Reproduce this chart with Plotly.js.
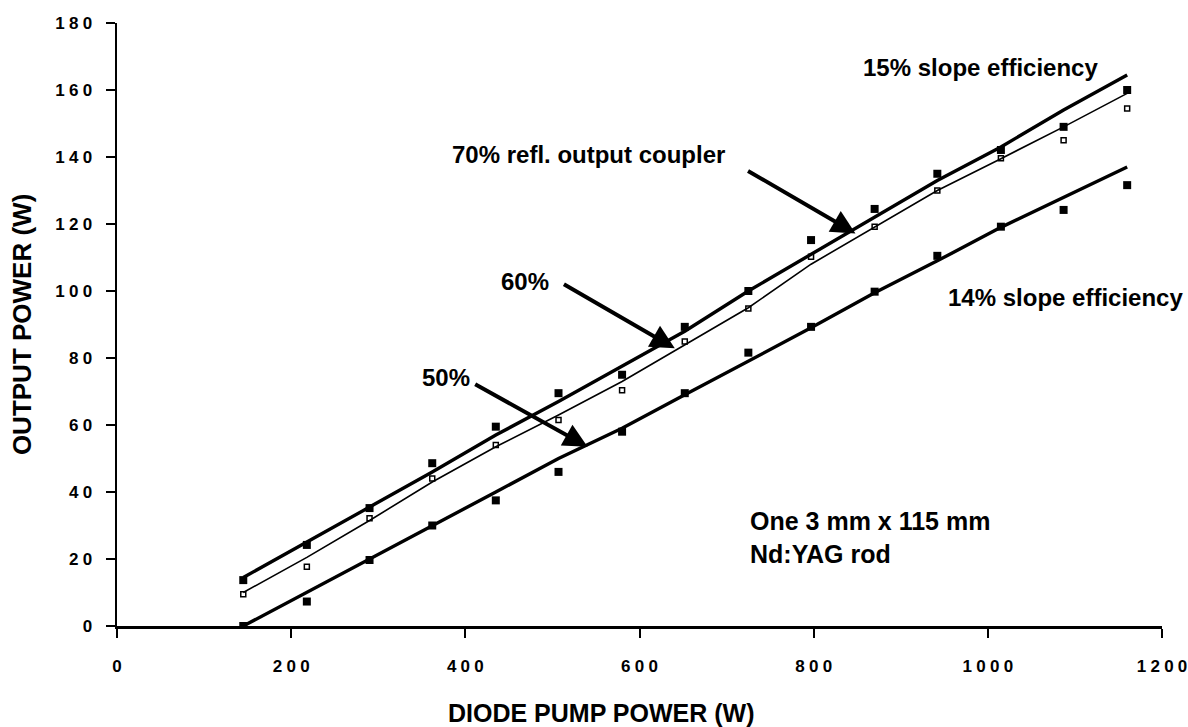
<!DOCTYPE html>
<html>
<head>
<meta charset="utf-8">
<script src="https://cdn.plot.ly/plotly-3.0.1.min.js"></script>
<style>html,body{margin:0;padding:0;background:#fff;}#chart{width:1188px;height:727px;}</style>
</head>
<body>
<div id="chart"></div>
<script>
// Diode pump power (W)
const pumpPower = [145, 218, 290, 362, 435, 507, 580, 652, 725, 797, 870, 942, 1015, 1087, 1160];

// Measured output power (W)
const outHigh = [13.7, 24.2, 35.2, 48.6, 59.5, 69.5, 75, 89.3, 100, 115.2, 124.5, 135, 142.1, 149, 160];
const outMid  = [9.5, 17.7, 32.2, 44, 54, 61.5, 70.4, 84.9, 94.8, 110.2, 119.2, 130, 139.6, 145, 154.5];
const outLow  = [0, 7.3, 19.7, 30, 37.5, 46, 58, 69.5, 81.6, 89.3, 99.8, 110.5, 119.2, 124.2, 131.6];

// Fitted curves (W)
const fitHigh = [14.5, 25, 35.5, 46, 57, 67, 77.5, 88, 100, 111, 122, 133, 143, 154, 164.5];
const fitMid  = [10, 20.5, 31.5, 43, 53.5, 63, 73, 84, 95, 108, 119, 130, 139.5, 149, 159];
const fitLow  = [0, 10, 20, 30, 40, 50, 59, 69, 79, 89, 99.5, 109, 119, 128, 137];

// Tick labels
const xTicks = [0, 200, 400, 600, 800, 1000, 1200];
const yTicks = [0, 20, 40, 60, 80, 100, 120, 140, 160, 180];

const F = "Liberation Sans, Arial, Helvetica, sans-serif";
const spaced = v => String(v).split('').join('\u2005');

const traces = [
  {x: pumpPower, y: fitHigh, mode: 'lines', line: {color: '#000', width: 3.4}, hoverinfo: 'skip'},
  {x: pumpPower, y: fitMid, mode: 'lines', line: {color: '#000', width: 1.6}, hoverinfo: 'skip'},
  {x: pumpPower, y: fitLow, mode: 'lines', line: {color: '#000', width: 3.4}, hoverinfo: 'skip'},
  {x: pumpPower, y: outHigh, mode: 'markers', marker: {symbol: 'square', size: 8, color: '#000'}},
  {x: pumpPower, y: outMid, mode: 'markers', marker: {symbol: 'square-open', size: 5, color: '#000', line: {width: 1.5, color: '#000'}}},
  {x: pumpPower, y: outLow, mode: 'markers', marker: {symbol: 'square', size: 8, color: '#000'}}
];

const txt = (s, x, y, size, xanchor) => ({
  text: s, x: x, y: y, xref: 'x', yref: 'y', showarrow: false,
  xanchor: xanchor || 'center', yanchor: 'middle', align: 'left',
  font: {family: F, size: size, color: '#000', weight: 'bold'}
});
const arrow = (tx, ty, hx, hy) => ({
  x: hx, y: hy, ax: tx, ay: ty, xref: 'x', yref: 'y', axref: 'x', ayref: 'y',
  text: '', showarrow: true, arrowhead: 2, arrowsize: 1.2, arrowwidth: 4, arrowcolor: '#000'
});

const layout = {
  width: 1188, height: 727,
  margin: {l: 117, r: 26, t: 23, b: 101},
  paper_bgcolor: '#fff', plot_bgcolor: '#fff',
  showlegend: false,
  font: {family: F, color: '#000'},
  xaxis: {
    range: [0, 1200], tickvals: xTicks, ticktext: xTicks.map(spaced),
    showgrid: false, zeroline: false, showline: true, linecolor: '#000', linewidth: 2.5,
    ticks: 'outside', ticklen: 9, tickwidth: 2, tickcolor: '#000',
    ticklabelstandoff: 14,
    tickfont: {family: F, size: 17, weight: 'bold', color: '#000'}
  },
  yaxis: {
    range: [0, 180], tickvals: yTicks, ticktext: yTicks.map(spaced),
    showgrid: false, zeroline: false, showline: true, linecolor: '#000', linewidth: 2.5,
    ticks: 'outside', ticklen: 9, tickwidth: 2, tickcolor: '#000',
    ticklabelstandoff: 10,
    tickfont: {family: F, size: 17, weight: 'bold', color: '#000'}
  },
  annotations: [
    {text: 'DIODE PUMP POWER (W)', x: 0.463, y: -0.1443, xref: 'paper', yref: 'paper', showarrow: false,
     xanchor: 'center', yanchor: 'middle', font: {family: F, size: 25, weight: 'bold', color: '#000'}},
    {text: 'OUTPUT POWER (W)', x: -0.0909, y: 0.499, xref: 'paper', yref: 'paper', showarrow: false,
     textangle: -90, xanchor: 'center', yanchor: 'middle', font: {family: F, size: 26, weight: 'bold', color: '#000'}},
    txt('15% slope efficiency', 991, 166.6, 24),
    txt('70% refl. output coupler', 542, 140.6, 24),
    txt('60%', 469, 102.7, 24),
    txt('50%', 377.6, 74.3, 24),
    txt('14% slope efficiency', 1089, 98.2, 24),
    txt('One 3 mm x 115 mm<br>Nd:YAG rod', 725, 26.3, 25, 'left'),
    arrow(722.9, 136.1, 848, 117.2),
    arrow(511.5, 102.3, 640.5, 82.9),
    arrow(409.6, 72.4, 540.4, 53.5)
  ]
};

Plotly.newPlot('chart', traces, layout, {displayModeBar: false, staticPlot: true});
</script>
</body>
</html>
